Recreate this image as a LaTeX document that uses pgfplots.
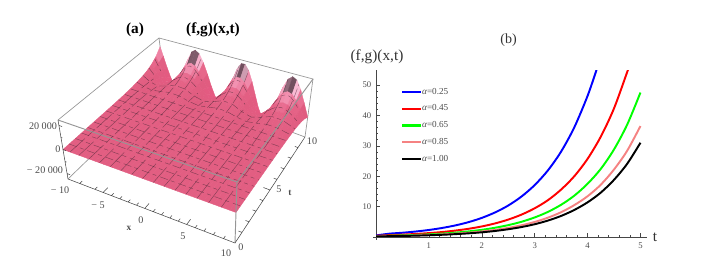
\documentclass[border=0pt]{standalone}
\usepackage{pgfplots}
\usepackage{pgfplotstable}
\usepackage{fontspec}
\setmainfont{Liberation Serif}
\pgfplotsset{compat=1.18}
\definecolor{boxg}{RGB}{150,150,150}
\definecolor{axd}{RGB}{70,70,70}
\definecolor{meshd}{RGB}{75,40,55}
\definecolor{pinkc}{RGB}{245,130,130}
\pgfplotstableread[row sep=\\]{
x t z\\
-10 10 15550\\ -9.5 10 6180\\ -9 10 -4690\\ -8.5 10 -14430\\ -8 10 -20640\\ -7.5 10 -21760\\ -7 10 -17600\\ -6.5 10 -9110\\ -6 10 1630\\ -5.5 10 11950\\ -5 10 19340\\ -4.5 10 22000\\ -4 10 19270\\ -3.5 10 11810\\ -3 10 1500\\ -2.5 10 -9220\\ -2 10 -17670\\ -1.5 10 -21780\\ -1 10 -20590\\ -0.5 10 -14320\\ 0 10 -4580\\ 0.5 10 6310\\ 1 10 15640\\ 1.5 10 21140\\ 2 10 21470\\ 2.5 10 16540\\ 3 10 7570\\ 3.5 10 -3280\\ 4 10 -13310\\ 4.5 10 -20060\\ 5 10 -21930\\ 5.5 10 -18410\\ 6 10 -10360\\ 6.5 10 180\\ 7 10 10670\\ 7.5 10 18610\\ 8 10 21960\\ 8.5 10 19930\\ 9 10 13020\\ 9.5 10 2930\\ 10 10 -7880\\
-10 9.5 9440\\ -9.5 9.5 3750\\ -9 9.5 -2840\\ -8.5 9.5 -8760\\ -8 9.5 -12520\\ -7.5 9.5 -13200\\ -7 9.5 -10680\\ -6.5 9.5 -5530\\ -6 9.5 990\\ -5.5 9.5 7250\\ -5 9.5 11730\\ -4.5 9.5 13350\\ -4 9.5 11690\\ -3.5 9.5 7170\\ -3 9.5 910\\ -2.5 9.5 -5590\\ -2 9.5 -10720\\ -1.5 9.5 -13220\\ -1 9.5 -12500\\ -0.5 9.5 -8690\\ 0 9.5 -2780\\ 0.5 9.5 3830\\ 1 9.5 9490\\ 1.5 9.5 12830\\ 2 9.5 13030\\ 2.5 9.5 10040\\ 3 9.5 4590\\ 3.5 9.5 -1990\\ 4 9.5 -8080\\ 4.5 9.5 -12180\\ 5 9.5 -13310\\ 5.5 9.5 -11170\\ 6 9.5 -6290\\ 6.5 9.5 110\\ 7 9.5 6470\\ 7.5 9.5 11290\\ 8 9.5 13320\\ 8.5 9.5 12100\\ 9 9.5 7900\\ 9.5 9.5 1780\\ 10 9.5 -4780\\
-10 9 5730\\ -9.5 9 2280\\ -9 9 -1730\\ -8.5 9 -5310\\ -8 9 -7600\\ -7.5 9 -8010\\ -7 9 -6480\\ -6.5 9 -3350\\ -6 9 600\\ -5.5 9 4400\\ -5 9 7120\\ -4.5 9 8100\\ -4 9 7100\\ -3.5 9 4350\\ -3 9 550\\ -2.5 9 -3390\\ -2 9 -6500\\ -1.5 9 -8020\\ -1 9 -7580\\ -0.5 9 -5270\\ 0 9 -1680\\ 0.5 9 2320\\ 1 9 5760\\ 1.5 9 7780\\ 2 9 7910\\ 2.5 9 6090\\ 3 9 2790\\ 3.5 9 -1210\\ 4 9 -4900\\ 4.5 9 -7390\\ 5 9 -8080\\ 5.5 9 -6780\\ 6 9 -3820\\ 6.5 9 60\\ 7 9 3930\\ 7.5 9 6850\\ 8 9 8080\\ 8.5 9 7340\\ 9 9 4800\\ 9.5 9 1080\\ 10 9 -2900\\
-10 8.5 3460\\ -9.5 8.5 1380\\ -9 8.5 -1040\\ -8.5 8.5 -3210\\ -8 8.5 -4600\\ -7.5 8.5 -4850\\ -7 8.5 -3920\\ -6.5 8.5 -2030\\ -6 8.5 360\\ -5.5 8.5 2660\\ -5 8.5 4310\\ -4.5 8.5 4900\\ -4 8.5 4290\\ -3.5 8.5 2630\\ -3 8.5 330\\ -2.5 8.5 -2050\\ -2 8.5 -3930\\ -1.5 8.5 -4850\\ -1 8.5 -4590\\ -0.5 8.5 -3190\\ 0 8.5 -1020\\ 0.5 8.5 1410\\ 1 8.5 3480\\ 1.5 8.5 4710\\ 2 8.5 4780\\ 2.5 8.5 3680\\ 3 8.5 1690\\ 3.5 8.5 -730\\ 4 8.5 -2960\\ 4.5 8.5 -4470\\ 5 8.5 -4890\\ 5.5 8.5 -4100\\ 6 8.5 -2310\\ 6.5 8.5 40\\ 7 8.5 2380\\ 7.5 8.5 4150\\ 8 8.5 4890\\ 8.5 8.5 4440\\ 9 8.5 2900\\ 9.5 8.5 650\\ 10 8.5 -1750\\
-10 8 2110\\ -9.5 8 840\\ -9 8 -630\\ -8.5 8 -1950\\ -8 8 -2800\\ -7.5 8 -2950\\ -7 8 -2380\\ -6.5 8 -1230\\ -6 8 220\\ -5.5 8 1620\\ -5 8 2620\\ -4.5 8 2980\\ -4 8 2610\\ -3.5 8 1600\\ -3 8 200\\ -2.5 8 -1250\\ -2 8 -2390\\ -1.5 8 -2950\\ -1 8 -2790\\ -0.5 8 -1940\\ 0 8 -620\\ 0.5 8 860\\ 1 8 2120\\ 1.5 8 2860\\ 2 8 2910\\ 2.5 8 2240\\ 3 8 1030\\ 3.5 8 -440\\ 4 8 -1800\\ 4.5 8 -2720\\ 5 8 -2970\\ 5.5 8 -2490\\ 6 8 -1400\\ 6.5 8 20\\ 7 8 1450\\ 7.5 8 2520\\ 8 8 2970\\ 8.5 8 2700\\ 9 8 1760\\ 9.5 8 400\\ 10 8 -1070\\
-10 7 780\\ -9.5 7 310\\ -9 7 -230\\ -8.5 7 -720\\ -8 7 -1030\\ -7.5 7 -1090\\ -7 7 -880\\ -6.5 7 -460\\ -6 7 80\\ -5.5 7 600\\ -5 7 970\\ -4.5 7 1100\\ -4 7 960\\ -3.5 7 590\\ -3 7 70\\ -2.5 7 -460\\ -2 7 -880\\ -1.5 7 -1090\\ -1 7 -1030\\ -0.5 7 -720\\ 0 7 -230\\ 0.5 7 320\\ 1 7 780\\ 1.5 7 1060\\ 2 7 1070\\ 2.5 7 830\\ 3 7 380\\ 3.5 7 -160\\ 4 7 -670\\ 4.5 7 -1000\\ 5 7 -1100\\ 5.5 7 -920\\ 6 7 -520\\ 6.5 7 10\\ 7 7 530\\ 7.5 7 930\\ 8 7 1100\\ 8.5 7 1000\\ 9 7 650\\ 9.5 7 150\\ 10 7 -390\\
-10 6 280\\ -9.5 6 110\\ -9 6 -90\\ -8.5 6 -260\\ -8 6 -380\\ -7.5 6 -400\\ -7 6 -320\\ -6.5 6 -170\\ -6 6 30\\ -5.5 6 220\\ -5 6 350\\ -4.5 6 400\\ -4 6 350\\ -3.5 6 210\\ -3 6 30\\ -2.5 6 -170\\ -2 6 -320\\ -1.5 6 -400\\ -1 6 -370\\ -0.5 6 -260\\ 0 6 -80\\ 0.5 6 110\\ 1 6 280\\ 1.5 6 380\\ 2 6 390\\ 2.5 6 300\\ 3 6 140\\ 3.5 6 -60\\ 4 6 -240\\ 4.5 6 -360\\ 5 6 -400\\ 5.5 6 -330\\ 6 6 -190\\ 6.5 6 0\\ 7 6 190\\ 7.5 6 340\\ 8 6 400\\ 8.5 6 360\\ 9 6 240\\ 9.5 6 50\\ 10 6 -140\\
-10 5 110\\ -9.5 5 40\\ -9 5 -30\\ -8.5 5 -100\\ -8 5 -140\\ -7.5 5 -150\\ -7 5 -120\\ -6.5 5 -60\\ -6 5 10\\ -5.5 5 80\\ -5 5 130\\ -4.5 5 150\\ -4 5 130\\ -3.5 5 80\\ -3 5 10\\ -2.5 5 -60\\ -2 5 -120\\ -1.5 5 -150\\ -1 5 -140\\ -0.5 5 -100\\ 0 5 -30\\ 0.5 5 40\\ 1 5 110\\ 1.5 5 140\\ 2 5 150\\ 2.5 5 110\\ 3 5 50\\ 3.5 5 -20\\ 4 5 -90\\ 4.5 5 -140\\ 5 5 -150\\ 5.5 5 -130\\ 6 5 -70\\ 6.5 5 0\\ 7 5 70\\ 7.5 5 130\\ 8 5 150\\ 8.5 5 140\\ 9 5 90\\ 9.5 5 20\\ 10 5 -50\\
-10 0 0\\ -9.5 0 0\\ -9 0 0\\ -8.5 0 0\\ -8 0 0\\ -7.5 0 0\\ -7 0 0\\ -6.5 0 0\\ -6 0 0\\ -5.5 0 0\\ -5 0 0\\ -4.5 0 0\\ -4 0 0\\ -3.5 0 0\\ -3 0 0\\ -2.5 0 0\\ -2 0 0\\ -1.5 0 0\\ -1 0 0\\ -0.5 0 0\\ 0 0 0\\ 0.5 0 0\\ 1 0 0\\ 1.5 0 0\\ 2 0 0\\ 2.5 0 0\\ 3 0 0\\ 3.5 0 0\\ 4 0 0\\ 4.5 0 0\\ 5 0 0\\ 5.5 0 0\\ 6 0 0\\ 6.5 0 0\\ 7 0 0\\ 7.5 0 0\\ 8 0 0\\ 8.5 0 0\\ 9 0 0\\ 9.5 0 0\\ 10 0 0\\
}\surftab
\pgfplotstableread[row sep=\\]{
x t z\\
-8.75 0 0\\ -8.75 5 -70\\ -8.75 6 -180\\ -8.75 7 -490\\ -8.75 8 -1340\\ -8.75 8.5 -2200\\ nan nan nan\\
-7.5 0 0\\ -7.5 5 -150\\ -7.5 6 -400\\ -7.5 7 -1090\\ -7.5 8 -2950\\ nan nan nan\\
-6.25 0 0\\ -6.25 5 -30\\ -6.25 6 -70\\ -6.25 7 -190\\ -6.25 8 -520\\ -6.25 8.5 -860\\ -6.25 9 -1430\\ nan nan nan\\
-5 0 0\\ -5 5 130\\ -5 6 350\\ -5 7 970\\ -5 8 2620\\ -5 8.5 4310\\ -5 9 7120\\ -5 9.5 11730\\ -5 10 19340\\ nan nan nan\\
-3.75 0 0\\ -3.75 5 110\\ -3.75 6 290\\ -3.75 7 800\\ -3.75 8 2170\\ -3.75 8.5 3560\\ -3.75 9 5890\\ -3.75 9.5 9710\\ -3.75 10 15990\\ nan nan nan\\
-2.5 0 0\\ -2.5 5 -60\\ -2.5 6 -170\\ -2.5 7 -460\\ -2.5 8 -1250\\ -2.5 8.5 -2050\\ nan nan nan\\
-1.25 0 0\\ -1.25 5 -150\\ -1.25 6 -400\\ -1.25 7 -1090\\ -1.25 8 -2960\\ nan nan nan\\
0 0 0\\ 0 5 -30\\ 0 6 -80\\ 0 7 -230\\ 0 8 -620\\ 0 8.5 -1020\\ 0 9 -1680\\ nan nan nan\\
1.25 0 0\\ 1.25 5 130\\ 1.25 6 350\\ 1.25 7 950\\ 1.25 8 2570\\ 1.25 8.5 4230\\ 1.25 9 6990\\ 1.25 9.5 11520\\ 1.25 10 18990\\ nan nan nan\\
2.5 0 0\\ 2.5 5 110\\ 2.5 6 300\\ 2.5 7 830\\ 2.5 8 2240\\ 2.5 8.5 3680\\ 2.5 9 6090\\ 2.5 9.5 10040\\ 2.5 10 16540\\ nan nan nan\\
3.75 0 0\\ 3.75 5 -60\\ 3.75 6 -160\\ 3.75 7 -430\\ 3.75 8 -1160\\ 3.75 8.5 -1910\\ nan nan nan\\
5 0 0\\ 5 5 -150\\ 5 6 -400\\ 5 7 -1100\\ 5 8 -2970\\ nan nan nan\\
6.25 0 0\\ 6.25 5 -40\\ 6.25 6 -100\\ 6.25 7 -260\\ 6.25 8 -720\\ 6.25 8.5 -1180\\ 6.25 9 -1940\\ nan nan nan\\
7.5 0 0\\ 7.5 5 130\\ 7.5 6 340\\ 7.5 7 930\\ 7.5 8 2520\\ 7.5 8.5 4150\\ 7.5 9 6850\\ 7.5 9.5 11290\\ 7.5 10 18610\\ nan nan nan\\
8.75 0 0\\ 8.75 5 120\\ 8.75 6 310\\ 8.75 7 850\\ 8.75 8 2300\\ 8.75 8.5 3790\\ 8.75 9 6260\\ 8.75 9.5 10320\\ 8.75 10 17010\\
}\xlinetab
\pgfplotstableread[row sep=\\]{
x t z\\
-10 0.625 0\\ 10 0.625 0\\ nan nan nan\\
-10 1.25 0\\ 10 1.25 0\\ nan nan nan\\
-10 1.875 0\\ 10 1.875 0\\ nan nan nan\\
-10 2.5 0\\ 10 2.5 0\\ nan nan nan\\
-10 3.125 0\\ 10 3.125 0\\ nan nan nan\\
-10 3.75 0\\ 10 3.75 0\\ nan nan nan\\
-10 4.375 0\\ 10 4.375 0\\ nan nan nan\\
-10 5 0\\ 10 5 0\\ nan nan nan\\
-10 5.625 0\\ 10 5.625 0\\ nan nan nan\\
-10 6.25 0\\ 10 6.25 0\\ nan nan nan\\
-10 6.875 0\\ 10 6.875 0\\ nan nan nan\\
-10 7.5 1270\\ -8.75 7.5 -810\\ -7.5 7.5 -1780\\ -6.25 7.5 -320\\ -5 7.5 1580\\ -3.75 7.5 1310\\ -2.5 7.5 -750\\ -1.25 7.5 -1790\\ 0 7.5 -370\\ 1.25 7.5 1550\\ 2.5 7.5 1350\\ 3.75 7.5 -700\\ 5 7.5 -1790\\ 6.25 7.5 -430\\ 7.5 7.5 1520\\ 8.75 7.5 1390\\ 10 7.5 -640\\ nan nan nan\\
-10 8.125 2380\\ -8.75 8.125 -1510\\ -7.5 8.125 -3330\\ -6.25 8.125 -590\\ -5 8.125 2960\\ -3.75 8.125 2450\\ -2.5 8.125 -1410\\ -1.25 8.125 -3350\\ 0 8.125 -700\\ 1.25 8.125 2910\\ 2.5 8.125 2530\\ 3.75 8.125 -1310\\ 5 8.125 -3360\\ 6.25 8.125 -810\\ 7.5 8.125 2850\\ 8.75 8.125 2600\\ 10 8.125 -1210\\ nan nan nan\\
-10 8.75 4450\\ -9.5 8.75 1770\\ -9 8.75 -1340\\ nan nan nan\\
-6 8.75 470\\ -5.5 8.75 3420\\ -5 8.75 5540\\ -4.5 8.75 6300\\ -4 8.75 5520\\ -3.5 8.75 3380\\ -3 8.75 430\\ nan nan nan\\
0 8.75 -1310\\ 0.5 8.75 1810\\ 1 8.75 4480\\ 1.5 8.75 6050\\ 2 8.75 6150\\ 2.5 8.75 4740\\ 3 8.75 2170\\ 3.5 8.75 -940\\ nan nan nan\\
6.5 8.75 50\\ 7 8.75 3060\\ 7.5 8.75 5330\\ 8 8.75 6290\\ 8.5 8.75 5710\\ 9 8.75 3730\\ 9.5 8.75 840\\ 10 8.75 -2260\\ nan nan nan\\
-10 9.375 8340\\ -9.5 9.375 3320\\ -9 9.375 -2510\\ nan nan nan\\
-6 9.375 870\\ -5.5 9.375 6410\\ -5 9.375 10370\\ -4.5 9.375 11800\\ -4 9.375 10340\\ -3.5 9.375 6340\\ -3 9.375 800\\ nan nan nan\\
0.5 9.375 3390\\ 1 9.375 8390\\ 1.5 9.375 11340\\ 2 9.375 11520\\ 2.5 9.375 8870\\ 3 9.375 4060\\ nan nan nan\\
6.5 9.375 90\\ 7 9.375 5720\\ 7.5 9.375 9980\\ 8 9.375 11780\\ 8.5 9.375 10690\\ 9 9.375 6990\\ 9.5 9.375 1570\\
}\tlinetab
\pgfplotstableread[row sep=\\]{
x t z\\
-10 0 24500\\ -10 10 24500\\ 10 10 24500\\ 10 10 -24500\\ nan nan nan\\
-10 10 -24500\\ -10 10 24500\\ nan nan nan\\
-10 10 -24500\\ 10 10 -24500\\ nan nan nan\\
-10 10 -24500\\ -10 0 -24500\\
}\boxback
\pgfplotstableread[row sep=\\]{
x t z\\
-10 0 24500\\ 10 0 24500\\ 10 10 24500\\ nan nan nan\\
10 0 24500\\ 10 0 -24500\\
}\boxfront
\pgfplotstableread[row sep=\\]{
x t z\\
-10 0 24500\\ -10 0 -24500\\ 10 0 -24500\\ 10 10 -24500\\ nan nan nan\\
-10 0 20000\\ -9.4 0 20000\\ nan nan nan\\
-10 0 0\\ -9.4 0 0\\ nan nan nan\\
-10 0 -20000\\ -9.4 0 -20000\\ nan nan nan\\
-10 0 10000\\ -9.7 0 10000\\ nan nan nan\\
-10 0 -10000\\ -9.7 0 -10000\\ nan nan nan\\
-5 0 -24500\\ -5 0.5 -24500\\ nan nan nan\\
0 0 -24500\\ 0 0.5 -24500\\ nan nan nan\\
5 0 -24500\\ 5 0.5 -24500\\ nan nan nan\\
-8 0 -24500\\ -8 0.25 -24500\\ nan nan nan\\
-6 0 -24500\\ -6 0.25 -24500\\ nan nan nan\\
-4 0 -24500\\ -4 0.25 -24500\\ nan nan nan\\
-3 0 -24500\\ -3 0.25 -24500\\ nan nan nan\\
-2 0 -24500\\ -2 0.25 -24500\\ nan nan nan\\
-1 0 -24500\\ -1 0.25 -24500\\ nan nan nan\\
1 0 -24500\\ 1 0.25 -24500\\ nan nan nan\\
2 0 -24500\\ 2 0.25 -24500\\ nan nan nan\\
3 0 -24500\\ 3 0.25 -24500\\ nan nan nan\\
4 0 -24500\\ 4 0.25 -24500\\ nan nan nan\\
6 0 -24500\\ 6 0.25 -24500\\ nan nan nan\\
7 0 -24500\\ 7 0.25 -24500\\ nan nan nan\\
8 0 -24500\\ 8 0.25 -24500\\ nan nan nan\\
9 0 -24500\\ 9 0.25 -24500\\ nan nan nan\\
10 5 -24500\\ 9.4 5 -24500\\ nan nan nan\\
10 1 -24500\\ 9.7 1 -24500\\ nan nan nan\\
10 2 -24500\\ 9.7 2 -24500\\ nan nan nan\\
10 3 -24500\\ 9.7 3 -24500\\ nan nan nan\\
10 4 -24500\\ 9.7 4 -24500\\ nan nan nan\\
10 6 -24500\\ 9.7 6 -24500\\ nan nan nan\\
10 7 -24500\\ 9.7 7 -24500\\ nan nan nan\\
10 8 -24500\\ 9.7 8 -24500\\ nan nan nan\\
10 9 -24500\\ 9.7 9 -24500\\
}\ticktab
\pgfkeys{/pgfplots/table/scr/.style={x expr={PX(\thisrow{x},\thisrow{t},\thisrow{z})},y expr={PY(\thisrow{x},\thisrow{t},\thisrow{z})},z expr=0}}
\begin{document}
\begin{tikzpicture}
\path[use as bounding box] (0,0) rectangle (533.25pt,197.25pt);
\begin{axis}[
 at={(0,0)},anchor=south west,scale only axis,width=533.25pt,height=197.25pt,
 xmin=0,xmax=711,ymin=0,ymax=263,zmin=-1,zmax=1,view={0}{90},hide axis,clip=false,
 unbounded coords=jump,
 point meta min=-22000,point meta max=22000,
 colormap={pk}{rgb255(-22)=(236,88,132) rgb255(-2)=(224,92,128) rgb255(5)=(230,100,136) rgb255(10)=(241,140,172) rgb255(13.5)=(250,190,214) rgb255(15.3)=(205,155,175) rgb255(16.8)=(115,80,95) rgb255(22)=(90,65,75)},
 declare function={
  bil(\a,\b,\c,\d,\u,\v)=\a*(1-\u)*(1-\v)+\b*\u*(1-\v)+\c*\u*\v+\d*(1-\u)*\v;
  WU(\x)=(\x+10)/20-0.04*(1-(\x/10)^6);
  PX(\x,\t,\z)=(1-(\z+24500)/49000)*bil(68,235,305,165,WU(\x),\t/10)+((\z+24500)/49000)*bil(58,237,313,159,WU(\x),\t/10);
  PY(\x,\t,\z)=263-((1-(\z+24500)/49000)*bil(179,243,137,85,WU(\x),\t/10)+((\z+24500)/49000)*bil(120,182,79,38,WU(\x),\t/10));
 }]
\addplot3[no marks,boxg,line width=0.5pt] table[scr] {\boxback};
\addplot3[surf,shader=faceted,faceted color=mapped color,line width=0.25pt,z buffer=none,mesh/rows=9,mesh/cols=41,point meta=\thisrow{z}] table[scr] {\surftab};
\addplot3[no marks,meshd,opacity=0.65,line width=0.3pt,dash pattern=on 15pt off 3pt on 7pt off 2pt] table[scr] {\xlinetab};
\addplot3[no marks,meshd,opacity=0.65,line width=0.3pt,dash pattern=on 6pt off 2.5pt on 3pt off 3pt] table[scr] {\tlinetab};
\addplot3[no marks,color=boxg,line width=0.7pt] table[scr] {\boxfront};
\addplot3[no marks,color=axd,line width=0.4pt] table[scr] {\ticktab};
\end{axis}
\begin{axis}[
 at={(282pt,19.5pt)},anchor=south west,scale only axis,width=203.1pt,height=125.2pt,
 xmin=0,xmax=5.12,ymin=0,ymax=54.9,
 axis x line=bottom,axis y line=left,axis line style={axd,-,line width=0.5pt,shorten <=-2pt},
 xtick={1,2,3,4,5},ytick={10,20,30,40,50},minor x tick num=4,minor y tick num=4,
 tick align=inside,tick style={axd,line width=0.4pt},major tick length=3pt,minor tick length=1.6pt,
 ticklabel style={font=\fontsize{6.5}{7}\selectfont,text=black!70},
 /pgf/number format/assume math mode=true,
 xticklabel shift=1pt,
 legend style={draw=none,fill=none,at={(18.75pt,112pt)},anchor=north west,font=\fontsize{6.9}{7}\selectfont,row sep=6.5pt,inner sep=0pt,nodes={inner sep=0pt,text=black!70}},
 legend cell align=left,
 legend image code/.code={\draw[#1,line width=1.7pt] (0pt,0pt) -- (14pt,0pt);},
 clip=true,
]
\addplot[blue,line width=1.45pt,smooth] coordinates {(0,0.5)(0.25,1.09)(0.5,1.40)(0.75,1.80)(1,2.31)(1.25,2.97)(1.5,3.81)(1.75,4.89)(2,6.28)(2.25,8.07)(2.5,10.35)(2.75,13.3)(3,17.07)(3.25,21.9)(3.5,28.1)(3.75,36.1)(4,46.4)(4.17,55)};
\addplot[red,line width=1.45pt,smooth] coordinates {(0,0.4)(0.25,0.6)(0.5,0.78)(0.75,1.0)(1,1.28)(1.25,1.64)(1.5,2.11)(1.75,2.7)(2,3.47)(2.25,4.46)(2.5,5.73)(2.75,7.35)(3,9.44)(3.25,12.1)(3.5,15.6)(3.75,20)(4,25.7)(4.25,33)(4.5,42.3)(4.75,54.3)(4.77,55.4)};
\addplot[green,line width=1.45pt,smooth] coordinates {(0,0.3)(0.25,0.41)(0.5,0.53)(0.75,0.68)(1,0.87)(1.25,1.12)(1.5,1.43)(1.75,1.84)(2,2.36)(2.25,3.04)(2.5,3.9)(2.75,5.0)(3,6.43)(3.25,8.25)(3.5,10.6)(3.75,13.6)(4,17.5)(4.25,22.4)(4.5,28.8)(4.75,37)(5,47.5)};
\addplot[pinkc,line width=1.45pt,smooth] coordinates {(0,0.25)(0.25,0.32)(0.5,0.41)(0.75,0.52)(1,0.67)(1.25,0.86)(1.5,1.1)(1.75,1.42)(2,1.82)(2.25,2.33)(2.5,3.0)(2.75,3.85)(3,4.94)(3.25,6.35)(3.5,8.15)(3.75,10.5)(4,13.4)(4.25,17.2)(4.5,22.2)(4.75,28.4)(5,36.5)};
\addplot[black,line width=1.45pt,smooth] coordinates {(0,0.2)(0.25,0.27)(0.5,0.34)(0.75,0.44)(1,0.57)(1.25,0.73)(1.5,0.94)(1.75,1.2)(2,1.54)(2.25,1.98)(2.5,2.55)(2.75,3.27)(3,4.2)(3.25,5.4)(3.5,6.93)(3.75,8.9)(4,11.4)(4.25,14.6)(4.5,18.8)(4.75,24.1)(5,31)};
\legend{{\itshape α}=0.25,{\itshape α}=0.45,{\itshape α}=0.65,{\itshape α}=0.85,{\itshape α}=1.00}
\end{axis}
\begin{scope}[shift={(0pt,197.25pt)},x=0.75pt,y=-0.75pt]
\tikzset{lab/.style={font=\fontsize{7.6}{8}\selectfont,text=black!70,inner sep=0pt},bt/.style={font=\fontsize{11.5}{13}\bfseries\selectfont,inner sep=0pt}}
\node[bt] at (135,30) {(a)};
\node[bt] at (213,30) {(f,g)(x,t)};
\node[lab] at (43,126) {20 000};
\node[lab] at (58,149) {0};
\node[lab] at (45,170) {− 20 000};
\node[lab] at (60,190) {− 10};
\node[lab] at (98,205) {− 5};
\node[lab] at (141,220) {0};
\node[lab] at (183,236) {5};
\node[lab] at (226,253) {10};
\node[lab,font=\fontsize{7}{8}\bfseries\selectfont] at (129,228) {x};
\node[lab] at (241,247) {0};
\node[lab] at (279,189) {5};
\node[lab] at (312,141) {10};
\node[lab,font=\fontsize{7}{8}\bfseries\selectfont] at (290,193) {t};
\node[font=\fontsize{10.5}{12}\selectfont,inner sep=0pt,text=black!80] at (508.5,40) {(b)};
\node[font=\fontsize{11.5}{13}\selectfont,inner sep=0pt,text=black!80] at (377,57) {(f,g)(x,t)};
\node[font=\fontsize{11.5}{13}\selectfont,inner sep=0pt,text=black!80] at (655,237) {t};
\end{scope}
\end{tikzpicture}
\end{document}
